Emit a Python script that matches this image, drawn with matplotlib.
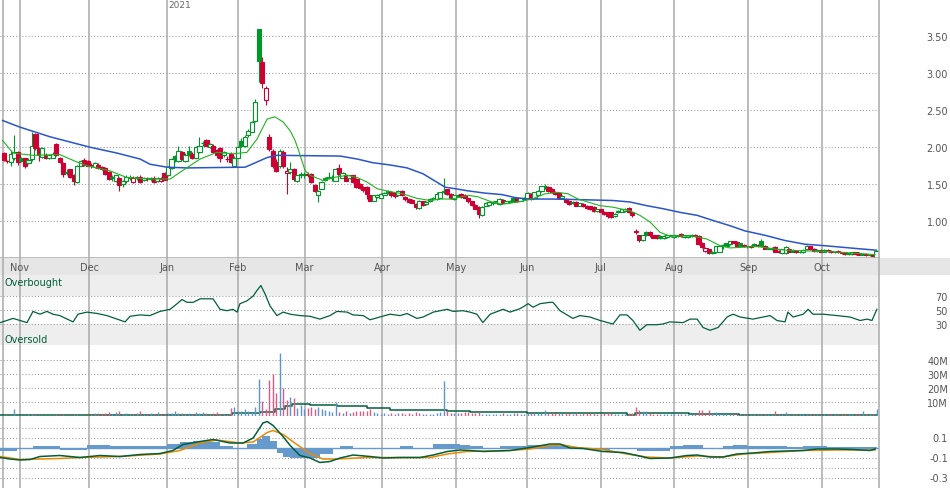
import matplotlib
matplotlib.use("Agg")
import matplotlib.pyplot as plt
import matplotlib.transforms as mtrans
from matplotlib.patches import Rectangle
from matplotlib.lines import Line2D

# ---------------- data ----------------
months = ["Nov", "Dec", "Jan", "Feb", "Mar", "Apr", "May", "Jun", "Jul", "Aug", "Sep", "Oct"]
month_pos = [4.5, 24.36, 46.71, 66.96, 86.11, 108.4, 129.6, 149.8, 171.0, 192.1, 213.3, 234.5]
year_label = "2021"

opens = [1.92, 1.81, 1.80, 1.86, 1.93, 1.86, 1.85, 1.79, 1.84, 2.18, 1.98, 1.87, 1.90, 1.86, 1.86, 2.04, 1.86, 1.79, 1.65, 1.70, 1.63, 1.53, 1.75, 1.83, 1.82,
         1.76, 1.73, 1.76, 1.73, 1.72, 1.66, 1.58, 1.55, 1.59, 1.50, 1.54, 1.58, 1.53, 1.58, 1.60, 1.56, 1.58, 1.57, 1.59, 1.54, 1.55, 1.65,
         1.62, 1.72, 1.88, 1.82, 1.93, 1.82, 1.95, 1.91, 1.86, 1.93, 2.06, 2.10, 2.00, 2.02, 1.96, 1.99, 1.89, 1.84, 1.91, 1.75,
         1.86, 2.08, 2.02, 2.16, 2.21, 2.36, 3.60, 3.15, 2.64, 2.14, 1.95, 1.80, 1.74, 1.94, 1.65, 1.66, 1.70, 1.55, 1.64,
         1.62, 1.64, 1.64, 1.49, 1.36, 1.44, 1.59, 1.60, 1.58, 1.55, 1.72, 1.59, 1.63, 1.58, 1.62, 1.57, 1.50, 1.46, 1.46, 1.35, 1.28, 1.33,
         1.32, 1.36, 1.41, 1.40, 1.38, 1.35, 1.41, 1.33, 1.30, 1.29, 1.23, 1.18, 1.27, 1.23, 1.27, 1.32, 1.30, 1.32, 1.41, 1.43, 1.37,
         1.30, 1.34, 1.37, 1.36, 1.31, 1.27, 1.22, 1.19, 1.08, 1.21, 1.22, 1.24, 1.27, 1.23, 1.29, 1.25, 1.26, 1.31, 1.31, 1.28, 1.30,
         1.31, 1.37, 1.32, 1.36, 1.41, 1.48, 1.46, 1.44, 1.40, 1.38, 1.31, 1.30, 1.27, 1.26, 1.26, 1.21, 1.23, 1.21, 1.20, 1.19, 1.14,
         1.16, 1.13, 1.12, 1.12, 1.07, 1.14, 1.13, 1.14, 1.18, 1.12, 0.87, 0.81, 0.75, 0.85, 0.86, 0.81, 0.81, 0.80, 0.77, 0.79, 0.80,
         0.79, 0.80, 0.83, 0.79, 0.79, 0.80, 0.82, 0.80, 0.71, 0.60, 0.62, 0.59, 0.58, 0.59, 0.68, 0.70, 0.69, 0.73, 0.72, 0.70, 0.68, 0.66,
         0.67, 0.69, 0.68, 0.74, 0.67, 0.63, 0.62, 0.65, 0.60, 0.57, 0.57, 0.63, 0.61, 0.60, 0.59, 0.58, 0.62, 0.66, 0.63, 0.61, 0.61,
         0.59, 0.61, 0.60, 0.58, 0.60, 0.58, 0.58, 0.56, 0.56, 0.58, 0.57, 0.56, 0.56, 0.55, 0.54, 0.51]
highs = [1.93, 1.83, 1.95, 2.16, 1.95, 1.87, 1.86, 1.85, 2.21, 2.19, 2.00, 2.00, 1.92, 1.90, 1.93, 2.06, 1.87, 1.80, 1.71, 1.71, 1.64, 1.76, 1.83, 1.85, 1.83,
         1.79, 1.80, 1.78, 1.75, 1.73, 1.68, 1.62, 1.63, 1.60, 1.56, 1.62, 1.62, 1.61, 1.61, 1.62, 1.60, 1.60, 1.60, 1.61, 1.60, 1.60, 1.66,
         1.74, 1.85, 1.90, 2.02, 1.95, 1.92, 2.02, 1.93, 2.01, 2.14, 2.08, 2.11, 2.06, 2.04, 1.98, 2.00, 1.95, 1.88, 1.93, 1.88,
         2.02, 2.12, 2.16, 2.24, 2.36, 2.65, 3.60, 3.22, 2.82, 2.18, 1.97, 1.84, 1.97, 1.96, 1.73, 1.80, 1.72, 1.63, 1.66,
         1.66, 1.67, 1.65, 1.50, 1.42, 1.54, 1.60, 1.66, 1.62, 1.72, 1.77, 1.66, 1.64, 1.63, 1.63, 1.58, 1.51, 1.47, 1.47, 1.36, 1.36, 1.37,
         1.38, 1.40, 1.42, 1.41, 1.39, 1.42, 1.42, 1.34, 1.31, 1.30, 1.24, 1.29, 1.28, 1.27, 1.31, 1.33, 1.40, 1.40, 1.58, 1.44, 1.38,
         1.36, 1.37, 1.38, 1.37, 1.32, 1.28, 1.23, 1.20, 1.20, 1.26, 1.27, 1.27, 1.28, 1.31, 1.30, 1.28, 1.29, 1.32, 1.32, 1.32, 1.33,
         1.39, 1.38, 1.40, 1.42, 1.48, 1.50, 1.47, 1.45, 1.41, 1.39, 1.35, 1.31, 1.28, 1.27, 1.27, 1.25, 1.24, 1.22, 1.21, 1.20, 1.17,
         1.17, 1.14, 1.13, 1.13, 1.11, 1.15, 1.17, 1.18, 1.19, 1.13, 0.90, 0.82, 0.82, 0.87, 0.87, 0.82, 0.82, 0.81, 0.81, 0.82, 0.82,
         0.82, 0.82, 0.84, 0.82, 0.82, 0.83, 0.83, 0.81, 0.72, 0.65, 0.63, 0.60, 0.67, 0.67, 0.69, 0.71, 0.74, 0.74, 0.73, 0.71, 0.69, 0.67,
         0.68, 0.70, 0.69, 0.76, 0.68, 0.65, 0.65, 0.66, 0.61, 0.63, 0.66, 0.64, 0.62, 0.61, 0.60, 0.62, 0.68, 0.67, 0.64, 0.62, 0.62,
         0.62, 0.62, 0.61, 0.60, 0.61, 0.59, 0.59, 0.58, 0.59, 0.59, 0.58, 0.57, 0.57, 0.56, 0.55, 0.61]
lows = [1.82, 1.79, 1.74, 1.83, 1.76, 1.80, 1.72, 1.77, 1.82, 1.96, 1.82, 1.85, 1.84, 1.84, 1.85, 1.88, 1.78, 1.60, 1.63, 1.58, 1.49, 1.52, 1.74, 1.74, 1.74,
        1.72, 1.72, 1.70, 1.69, 1.62, 1.56, 1.55, 1.53, 1.41, 1.46, 1.52, 1.56, 1.52, 1.56, 1.52, 1.54, 1.55, 1.55, 1.52, 1.53, 1.53, 1.56,
        1.61, 1.70, 1.80, 1.80, 1.83, 1.80, 1.88, 1.84, 1.85, 1.92, 2.01, 2.01, 1.99, 1.92, 1.85, 1.80, 1.87, 1.80, 1.78, 1.74,
        1.85, 2.00, 2.00, 2.14, 2.20, 2.34, 2.88, 2.80, 2.57, 1.95, 1.72, 1.66, 1.72, 1.72, 1.37, 1.64, 1.55, 1.53, 1.58,
        1.58, 1.60, 1.52, 1.40, 1.26, 1.43, 1.54, 1.57, 1.55, 1.54, 1.62, 1.58, 1.54, 1.57, 1.52, 1.45, 1.43, 1.40, 1.30, 1.27, 1.27, 1.31,
        1.31, 1.35, 1.37, 1.33, 1.32, 1.34, 1.34, 1.28, 1.25, 1.24, 1.16, 1.17, 1.21, 1.22, 1.26, 1.29, 1.29, 1.31, 1.37, 1.36, 1.30,
        1.29, 1.33, 1.31, 1.31, 1.25, 1.21, 1.16, 1.05, 1.07, 1.20, 1.21, 1.22, 1.25, 1.22, 1.24, 1.24, 1.25, 1.27, 1.26, 1.27, 1.29,
        1.30, 1.29, 1.31, 1.35, 1.40, 1.44, 1.40, 1.38, 1.36, 1.31, 1.30, 1.24, 1.22, 1.23, 1.20, 1.20, 1.19, 1.17, 1.15, 1.12, 1.13,
        1.12, 1.09, 1.05, 1.04, 1.06, 1.11, 1.12, 1.13, 1.11, 1.06, 0.83, 0.72, 0.74, 0.80, 0.79, 0.77, 0.76, 0.76, 0.76, 0.78, 0.79,
        0.78, 0.79, 0.79, 0.78, 0.78, 0.79, 0.79, 0.68, 0.64, 0.59, 0.56, 0.56, 0.57, 0.58, 0.63, 0.66, 0.68, 0.70, 0.65, 0.66, 0.65, 0.64,
        0.64, 0.66, 0.65, 0.65, 0.62, 0.62, 0.61, 0.58, 0.57, 0.56, 0.56, 0.58, 0.58, 0.57, 0.57, 0.57, 0.61, 0.61, 0.59, 0.59, 0.58,
        0.58, 0.59, 0.57, 0.57, 0.57, 0.56, 0.55, 0.55, 0.55, 0.55, 0.54, 0.54, 0.53, 0.53, 0.52, 0.51]
closes = [1.83, 1.81, 1.91, 1.94, 1.80, 1.82, 1.75, 1.83, 2.01, 1.99, 1.89, 1.99, 1.86, 1.89, 1.91, 1.90, 1.80, 1.64, 1.67, 1.60, 1.54, 1.75, 1.81, 1.76, 1.75,
          1.74, 1.78, 1.72, 1.70, 1.64, 1.57, 1.60, 1.62, 1.49, 1.54, 1.60, 1.60, 1.59, 1.60, 1.53, 1.59, 1.58, 1.59, 1.53, 1.58, 1.57, 1.56,
          1.73, 1.84, 1.85, 1.95, 1.84, 1.89, 1.91, 1.86, 2.00, 2.02, 2.05, 2.02, 2.04, 1.93, 1.90, 1.86, 1.93, 1.84, 1.80, 1.86,
          2.00, 2.02, 2.14, 2.22, 2.34, 2.61, 3.16, 2.86, 2.80, 1.97, 1.75, 1.68, 1.95, 1.75, 1.68, 1.70, 1.57, 1.62, 1.63,
          1.64, 1.63, 1.53, 1.41, 1.41, 1.53, 1.56, 1.58, 1.60, 1.71, 1.64, 1.65, 1.55, 1.62, 1.53, 1.46, 1.45, 1.42, 1.37, 1.28, 1.35, 1.36,
          1.37, 1.38, 1.39, 1.35, 1.34, 1.41, 1.35, 1.30, 1.26, 1.25, 1.19, 1.28, 1.22, 1.26, 1.30, 1.31, 1.37, 1.39, 1.40, 1.37, 1.31,
          1.35, 1.36, 1.33, 1.32, 1.27, 1.22, 1.17, 1.10, 1.19, 1.24, 1.26, 1.26, 1.26, 1.30, 1.25, 1.27, 1.28, 1.28, 1.27, 1.31, 1.32,
          1.38, 1.30, 1.39, 1.41, 1.47, 1.47, 1.41, 1.39, 1.37, 1.32, 1.34, 1.26, 1.23, 1.24, 1.21, 1.24, 1.20, 1.18, 1.16, 1.14, 1.16,
          1.13, 1.10, 1.07, 1.06, 1.10, 1.12, 1.16, 1.17, 1.12, 1.08, 0.86, 0.75, 0.81, 0.82, 0.81, 0.78, 0.77, 0.78, 0.80, 0.81, 0.81,
          0.81, 0.81, 0.80, 0.81, 0.81, 0.82, 0.80, 0.69, 0.65, 0.64, 0.57, 0.57, 0.66, 0.66, 0.66, 0.67, 0.73, 0.71, 0.66, 0.67, 0.66, 0.66,
          0.65, 0.67, 0.66, 0.66, 0.63, 0.64, 0.64, 0.59, 0.58, 0.62, 0.65, 0.59, 0.59, 0.58, 0.58, 0.61, 0.67, 0.62, 0.60, 0.60, 0.59,
          0.61, 0.60, 0.58, 0.59, 0.58, 0.57, 0.56, 0.57, 0.58, 0.56, 0.55, 0.55, 0.54, 0.54, 0.53, 0.60]
# volume, millions of shares
volumes = [0.8, 0.9, 1.2, 5.0, 1.2, 1.0, 0.9, 1.5, 2.0, 1.8, 1.2, 1.2, 0.9, 1.0, 0.8, 1.5, 1.2, 1.5, 1.0, 1.2, 1.5, 1.8, 1.2, 1.2, 1.0,
           2.0, 2.4, 2.4, 1.5, 2.5, 3.0, 2.0, 2.8, 3.5, 1.8, 2.4, 1.5, 2.0, 2.4, 4.0, 2.0, 1.5, 2.4, 2.0, 2.8, 1.5, 2.0,
           2.4, 2.5, 3.5, 2.5, 2.4, 2.0, 2.4, 2.0, 2.8, 2.4, 2.8, 2.4, 2.0, 2.4, 2.8, 2.0, 1.8, 2.0, 6.2, 6.6,
           4.0, 3.5, 5.0, 4.0, 3.0, 7.0, 27.0, 10.7, 5.0, 25.7, 30.0, 17.0, 45.0, 20.0, 12.0, 13.8, 13.3, 6.0, 8.0,
           5.5, 6.0, 6.5, 5.5, 6.5, 5.0, 4.5, 3.5, 3.0, 10.0, 3.0, 2.5, 3.5, 2.5, 3.0, 3.5, 3.5, 3.5, 3.5, 5.5, 3.0, 2.5,
           2.0, 2.5, 2.0, 2.5, 2.0, 2.5, 2.5, 2.0, 2.5, 2.0, 3.0, 2.5, 2.0, 2.0, 2.0, 2.0, 2.5, 3.0, 25.0, 4.4, 2.5,
           2.4, 2.4, 2.6, 2.8, 2.8, 2.6, 2.4, 3.0, 2.0, 2.0, 1.8, 2.0, 1.6, 2.0, 2.4, 1.8, 2.0, 2.2, 2.4, 2.0, 2.0,
           2.4, 2.4, 2.6, 2.4, 2.6, 4.5, 2.6, 2.4, 2.4, 2.4, 2.2, 2.4, 2.4, 2.0, 2.4, 2.0, 2.2, 2.4, 2.2, 2.4, 2.0,
           2.0, 2.4, 2.4, 2.2, 2.0, 2.0, 1.8, 2.0, 2.4, 2.5, 6.5, 4.5, 3.5, 3.5, 2.4, 2.0, 2.0, 1.8, 2.0, 1.6, 1.8,
           1.6, 1.8, 2.0, 1.6, 1.6, 1.8, 2.0, 4.5, 4.5, 2.5, 4.5, 2.4, 3.0, 2.0, 2.0, 1.8, 2.0, 2.0, 1.8, 1.6, 1.6, 1.6,
           1.6, 1.8, 1.6, 2.0, 1.8, 1.6, 1.6, 4.0, 2.0, 1.8, 3.0, 1.8, 1.6, 1.6, 1.6, 1.6, 1.8, 1.6, 1.6, 1.6, 1.6,
           1.6, 1.6, 1.6, 1.6, 1.6, 1.6, 1.8, 1.6, 1.6, 2.0, 2.0, 3.5, 1.6, 1.6, 2.0, 5.0]

# moving averages (bar position, price)
ma_fast_x = [-0.4, 2.6, 8.3, 16.0, 20.9, 23.8, 30.4, 35.2, 41.8, 47.6, 50.4, 56.2, 61.0, 65.6, 69.6, 72.5, 75.4, 77.6, 80.0, 82.0,
             83.4, 84.3, 86.3, 87.7, 91.4, 94.3, 98.3, 101.2, 104.0, 106.9, 110.6, 114.3, 118.3, 122.1, 125.0, 128.4, 133.0, 135.8,
             139.8, 142.7, 147.3, 151.3, 155.0, 158.7, 161.6, 164.5, 170.8, 174.5, 179.4, 182.2, 185.1, 188.0, 190.8, 197.4, 201.4,
             205.2, 208.0, 212.0, 216.0, 220.0, 224.0, 230.0, 237.0, 243.0, 249.6]
ma_fast_y = [2.09, 1.92, 1.89, 1.90, 1.80, 1.75, 1.68, 1.59, 1.57, 1.57, 1.66, 1.84, 1.93, 1.91, 1.93, 2.11, 2.38, 2.41, 2.34, 2.22,
             2.09, 1.97, 1.68, 1.62, 1.55, 1.59, 1.62, 1.59, 1.53, 1.44, 1.40, 1.37, 1.31, 1.28, 1.30, 1.30, 1.35, 1.33,
             1.26, 1.23, 1.26, 1.30, 1.37, 1.39, 1.37, 1.30, 1.21, 1.19, 1.14, 1.08, 0.99, 0.85, 0.80, 0.80, 0.76,
             0.67, 0.64, 0.65, 0.66, 0.63, 0.61, 0.60, 0.59, 0.57, 0.55]
ma_slow_x = [-0.4, 4.6, 13.2, 24.6, 32.4, 39.0, 41.8, 46.7, 52.4, 69.1, 72.5, 75.4, 78.2, 96.3, 101.2, 105.7, 110.6, 115.5, 120.1,
             125.0, 126.4, 129.2, 133.0, 137.8, 142.7, 146.4, 150.1, 157.0, 166.5, 174.5, 179.4, 184.2, 188.8, 193.7, 198.6, 203.2,
             208.0, 212.3, 218.1, 223.8, 229.5, 235.2, 244.7, 249.9]
ma_slow_y = [2.36, 2.27, 2.14, 2.00, 1.92, 1.84, 1.77, 1.73, 1.72, 1.73, 1.80, 1.86, 1.89, 1.88, 1.84, 1.79, 1.76, 1.72, 1.64,
             1.50, 1.46, 1.44, 1.41, 1.38, 1.36, 1.32, 1.30, 1.30, 1.29, 1.28, 1.26, 1.21, 1.17, 1.12, 1.08, 1.01,
             0.94, 0.87, 0.81, 0.74, 0.69, 0.67, 0.63, 0.61]

rsi_x = [-1.1, 0.8, 2.6, 4.6, 6.6, 8.3, 10.3, 12.3, 14.0, 16.0, 18.1, 19.8, 21.2, 23.8, 26.7, 29.5, 32.4, 34.7, 36.1, 39.0,
         41.8, 44.7, 47.6, 49.6, 51.0, 52.4, 54.2, 56.2, 59.9, 61.9, 63.9, 65.6, 66.8, 67.6, 69.6, 71.4, 72.5, 73.6, 74.8, 76.2,
         78.2, 80.0, 82.0, 84.8, 87.7, 90.5, 93.4, 95.4, 98.3, 100.0, 102.9, 104.9, 107.7, 110.6, 113.5, 115.5, 118.3, 120.1, 123.0, 127.0,
         128.7, 131.5, 133.5, 135.5, 137.2, 139.3, 143.0, 145.0, 147.9, 150.2, 151.6, 153.6, 156.5, 157.3, 159.3, 163.0, 165.0, 167.9, 170.8, 174.5,
         176.5, 178.5, 180.2, 182.2, 184.2, 187.1, 188.8, 190.8, 194.6, 196.6, 198.6, 200.3, 202.3, 204.6, 207.2, 208.9, 210.9, 214.6, 219.5, 221.5,
         223.8, 224.6, 226.1, 229.0, 230.4, 231.8, 234.7, 238.7, 242.4, 245.3, 247.3, 248.7, 250.1]
rsi_v = [32, 35, 38, 35, 32, 48, 44, 48, 44, 42, 37, 33, 44, 47, 45, 42, 37, 33, 41, 43,
         42, 48, 51, 59, 65, 61, 61, 66, 66, 51, 49, 51, 47, 59, 63, 70, 78, 85, 73, 56,
         42, 47, 44, 42, 41, 37, 42, 48, 47, 43, 42, 36, 40, 44, 42, 45, 38, 40, 47, 51,
         48, 49, 47, 44, 32, 44, 51, 47, 52, 59, 54, 59, 61, 61, 49, 38, 42, 40, 35, 30,
         43, 43, 35, 21, 29, 29, 30, 33, 32, 37, 37, 25, 21, 25, 40, 44, 40, 37, 42, 35,
         33, 47, 40, 44, 51, 44, 44, 42, 40, 35, 37, 35, 51]

# volume moving average, drawn as steps (start bar, millions)
vavg_x = [-1.15, 65.3, 73.3, 77.6, 80.5, 82.4, 87.6, 95.3, 104.0, 110.6, 127.0, 133.5, 149.9, 152.6, 178.4, 180.8, 196.2, 210.5, 250.1]
vavg_v = [1.0, 2.1, 3.3, 5.5, 7.4, 8.6, 8.0, 7.4, 5.7, 4.5, 3.8, 3.3, 2.6, 2.1, 1.2, 2.1, 1.4, 1.0, 1.0]

macd_x = [-1.1, 1.7, 4.6, 7.5, 10.3, 16.0, 21.8, 27.5, 33.2, 39.0, 44.7, 48.4, 51.3, 56.2, 59.9, 64.8, 68.5, 71.4, 74.2, 75.4,
          77.1, 79.7, 82.0, 84.8, 87.7, 90.5, 93.4, 96.3, 100.0, 104.9, 108.6, 113.5, 119.2, 123.0, 127.0, 130.7, 133.5, 137.3, 145.0, 150.7,
          156.4, 159.3, 162.2, 165.9, 171.6, 177.4, 181.4, 185.1, 190.8, 195.7, 198.6, 202.3, 206.0, 210.0, 214.6, 219.5, 229.0, 233.0, 238.7, 243.3,
          248.1, 249.6]
macd_v = [-0.10, -0.115, -0.125, -0.12, -0.09, -0.08, -0.10, -0.08, -0.09, -0.07, -0.06, -0.03, 0.03, 0.06, 0.08, 0.045, 0.045, 0.095, 0.245, 0.26,
          0.22, 0.12, 0.02, -0.08, -0.105, -0.15, -0.14, -0.105, -0.075, -0.09, -0.105, -0.10, -0.10, -0.075, -0.04, -0.025, -0.03, -0.04, -0.03, 0.0,
          0.035, 0.035, -0.005, -0.01, -0.04, -0.05, -0.08, -0.11, -0.105, -0.08, -0.075, -0.095, -0.095, -0.065, -0.055, -0.04, -0.03, -0.015, -0.015, -0.02,
          -0.03, -0.015]
signal_x = [-1.1, 4.6, 16.0, 21.8, 33.2, 44.7, 50.4, 56.2, 61.0, 67.6, 71.4, 75.4, 77.1, 80.0, 83.9, 87.7, 91.4, 95.4, 104.0, 113.5,
            122.1, 127.0, 132.6, 145.0, 150.7, 156.4, 160.2, 164.2, 171.6, 178.5, 184.2, 190.8, 198.6, 206.0, 211.8, 219.5, 229.0, 238.7, 249.6]
signal_v = [-0.09, -0.12, -0.11, -0.10, -0.09, -0.065, -0.03, 0.045, 0.075, 0.045, 0.055, 0.15, 0.17, 0.13, 0.03, -0.06, -0.115, -0.115, -0.10, -0.10,
            -0.10, -0.065, -0.04, -0.03, -0.015, 0.02, 0.025, 0.0, -0.02, -0.065, -0.095, -0.105, -0.085, -0.095, -0.065, -0.05, -0.03, -0.025, -0.025]
hist_x = [-1.1, 3.6, 8.4, 16.0, 23.8, 30.4, 46.6, 50.4, 54.2, 59.0, 61.9, 65.6, 69.6, 72.5, 73.9, 76.2, 78.2, 80.0, 82.0, 84.8,
          90.5, 94.3, 96.3, 100.0, 113.5, 117.2, 123.0, 130.7, 133.5, 137.3, 142.1, 149.9, 155.6, 162.2, 167.9, 173.6, 181.4, 190.8, 194.6, 200.3,
          206.0, 208.9, 212.9, 224.3, 229.0, 235.8, 250.1]
hist_v = [-0.03, -0.01, 0.02, -0.02, 0.027, 0.013, 0.04, 0.06, 0.07, 0.06, 0.02, -0.01, 0.04, 0.09, 0.12, 0.07, -0.05, -0.09, -0.105, -0.10,
          -0.06, -0.01, 0.02, -0.01, 0.02, -0.005, 0.035, 0.027, 0.02, -0.01, 0.02, 0.03, 0.02, -0.01, -0.02, -0.01, -0.03, 0.015, 0.027, -0.01,
          0.02, 0.03, 0.02, 0.01, 0.02, 0.01, 0.01]

# ---------------- styling ----------------
UP = "#00962a"
DOWN = "#cc0033"
GRID = "#999999"
VLINE = "#aaaaaa"
TXT = "#555555"
DKGREEN = "#00603a"
VOL_UP = "#5f93cc"
VOL_DN = "#dd5a82"
DOTS = (0, (1, 2))

W, H = 950, 489
PLOT_R = 879.3 / W
X0, X1 = -1.145, 250.8

fig = plt.figure(figsize=(W / 100, H / 100), dpi=100)


def add_panel(top, bottom, left=0.0, width=PLOT_R):
    ax = fig.add_axes([left, 1 - bottom / H, width, (bottom - top) / H])
    for s in ax.spines.values():
        s.set_visible(False)
    ax.set_xticks([])
    ax.set_xlim(X0, X1)
    return ax


def right_labels(ax, vals, labs):
    ax.set_yticks(vals)
    ax.set_yticklabels(labs)
    ax.yaxis.tick_right()
    ax.tick_params(axis="y", length=0, pad=49.5, labelsize=7, labelcolor=TXT)
    for t in ax.get_yticklabels():
        t.set_horizontalalignment("right")


def hgrid(ax, vals):
    for v in vals:
        ax.axhline(v, color=GRID, lw=0.75, ls=DOTS, zorder=0.5)


def vgrid(ax):
    for m in [-0.37] + month_pos:
        ax.axvline(m, color=VLINE, lw=1.1, zorder=0.6)


ax_p = add_panel(0, 259.3)
ax_band = add_panel(259.3, 276, width=1.0)
ax_r = add_panel(276, 346)
ax_v = add_panel(346, 417.3)
ax_m = add_panel(417.3, 489)

# ---- price panel ----
ax_p.set_ylim(0.5, 4.0)
hgrid(ax_p, [1.0, 1.5, 2.0, 2.5, 3.0, 3.5])
vgrid(ax_p)
ax_p.spines["bottom"].set_visible(True)
ax_p.spines["bottom"].set_color(VLINE)
ax_p.spines["bottom"].set_linewidth(1.1)
right_labels(ax_p, [1.0, 1.5, 2.0, 2.5, 3.0, 3.5], ["1.00", "1.50", "2.00", "2.50", "3.00", "3.50"])

bw = 1.2
for i in range(len(closes)):
    o, h, l, c = opens[i], highs[i], lows[i], closes[i]
    prev = closes[i - 1] if i else o
    col = UP if c >= prev else DOWN
    ax_p.vlines(i, l, h, color=col, lw=0.8, zorder=2)
    lo, hi = min(o, c), max(o, c)
    if hi - lo < 0.005:
        ax_p.hlines(c, i - bw / 2, i + bw / 2, color=col, lw=0.8, zorder=2)
    else:
        ax_p.add_patch(Rectangle((i - bw / 2, lo), bw, hi - lo,
                                 facecolor=col if c < o else "white",
                                 edgecolor=col, lw=0.8, zorder=2))

ax_p.plot(ma_slow_x, ma_slow_y, color="#2a55c8", lw=1.1, zorder=3)
ax_p.plot(ma_fast_x, ma_fast_y, color="#1fb41f", lw=0.8, zorder=3)
ax_p.text(month_pos[2] + 0.4, 0.977, year_label, transform=mtrans.blended_transform_factory(ax_p.transData, ax_p.transAxes),
          ha="left", va="center", fontsize=6.5, color="#666666")

# ---- month label band ----
ax_band.set_xlim(X0, X0 + (X1 - X0) * W / 879.3)
ax_band.set_facecolor("#e6e6e6")
ax_band.set_yticks([])
ax_band.set_ylim(0, 1)
vgrid(ax_band)
for m, name in zip(month_pos, months):
    ax_band.text(m, 0.45, name, ha="center", va="center", fontsize=7, color=TXT)

# ---- RSI ----
ax_r.set_ylim(0, 100)
ax_r.axhspan(70, 100, color="#eeeeee", lw=0, zorder=0)
ax_r.axhspan(0, 30, color="#eeeeee", lw=0, zorder=0)
hgrid(ax_r, [30, 50, 70])
vgrid(ax_r)
ax_r.plot(rsi_x, rsi_v, color=DKGREEN, lw=0.9, zorder=3)
right_labels(ax_r, [30, 50, 70], ["30", "50", "70"])
ax_r.text(0.005, 90, "Overbought", transform=mtrans.blended_transform_factory(ax_r.transAxes, ax_r.transData),
          ha="left", va="center", fontsize=7, color=DKGREEN)
ax_r.text(0.005, 8.6, "Oversold", transform=mtrans.blended_transform_factory(ax_r.transAxes, ax_r.transData),
          ha="left", va="center", fontsize=7, color=DKGREEN)

# ---- volume ----
ax_v.set_ylim(0, 50.93)
hgrid(ax_v, [10, 20, 30, 40])
vgrid(ax_v)
vcols = [VOL_UP if (i == 0 or closes[i] >= closes[i - 1]) else VOL_DN for i in range(len(closes))]
ax_v.step(vavg_x, vavg_v, where="post", color=DKGREEN, lw=1.1, zorder=2)
ax_v.vlines(range(len(volumes)), 0, volumes, colors=vcols, lw=1.0, zorder=3)
right_labels(ax_v, [10, 20, 30, 40], ["10M", "20M", "30M", "40M"])

# ---- MACD ----
ax_m.set_ylim(-0.405, 0.312)
hgrid(ax_m, [0.2, 0.1, -0.1, -0.2, -0.3])
vgrid(ax_m)
ax_m.fill_between(hist_x, 0, hist_v, step="post", color="#6699cc", lw=0, zorder=2)
ax_m.axhline(0, color="#6699cc", lw=1.0, zorder=2.5)
ax_m.plot(signal_x, signal_v, color="#ee8800", lw=1.1, zorder=3)
ax_m.plot(macd_x, macd_v, color=DKGREEN, lw=1.1, zorder=3.1)
right_labels(ax_m, [0.1, -0.1, -0.3], ["0.1", "-0.1", "-0.3"])

# right border of the plotting area
fig.add_artist(Line2D([PLOT_R, PLOT_R], [0, 1], color=VLINE, lw=1.1, transform=fig.transFigure))

fig.savefig("out.png", dpi=100)
